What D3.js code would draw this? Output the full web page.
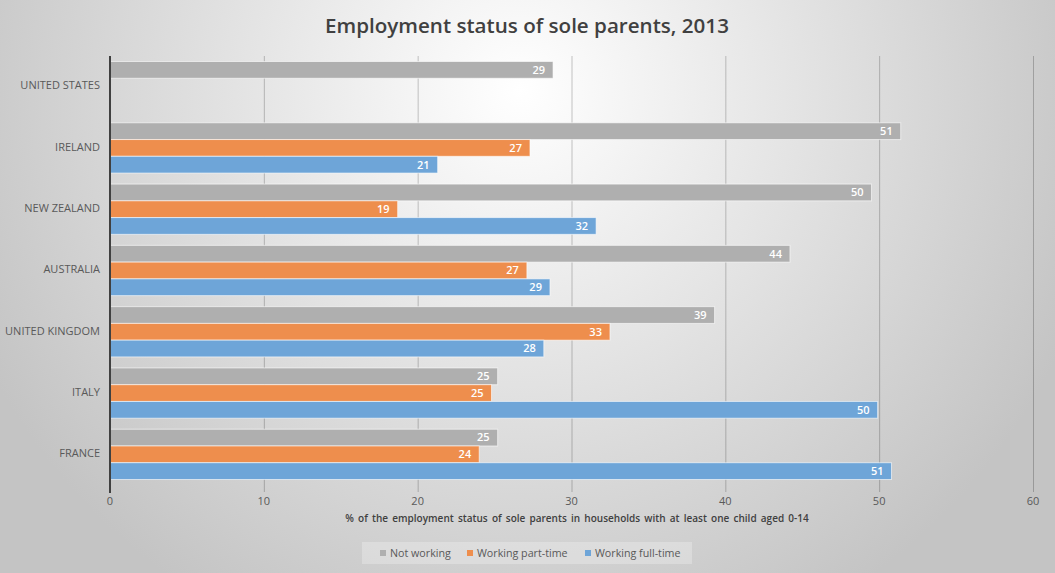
<!DOCTYPE html>
<html>
<head>
<meta charset="utf-8">
<script src="https://cdn.jsdelivr.net/npm/d3@7"></script>
<style>
  body { margin: 0; }
  svg { display: block; font-family: "Open Sans", "Noto Sans", sans-serif; }
</style>
</head>
<body>
<div id="chartContainer"></div>
<script>
var width = 1055,
  height = 573;

// chart values
var countries = ["UNITED STATES", "IRELAND", "NEW ZEALAND", "AUSTRALIA", "UNITED KINGDOM", "ITALY", "FRANCE"];
var seriesNames = ["Not working", "Working part-time", "Working full-time"];
var notWorking = [28.8, 51.4, 49.5, 44.2, 39.3, 25.2, 25.2];
var partTime = [null, 27.3, 18.7, 27.1, 32.5, 24.8, 24.0];
var fullTime = [null, 21.3, 31.6, 28.6, 28.2, 49.9, 50.8];
var xTicks = [0, 10, 20, 30, 40, 50, 60];
var colors = ["#afafaf", "#ee8e4d", "#6ea5d8"];

var series = [notWorking, partTime, fullTime];

var margin = { top: 56, right: 22, bottom: 88, left: 110 };

var svg = d3.select("#chartContainer")
  .append("svg")
  .attr("width", width)
  .attr("height", height);

// background gradient
var defs = svg.append("defs");
var grad = defs.append("radialGradient")
  .attr("id", "bg")
  .attr("gradientUnits", "userSpaceOnUse")
  .attr("cx", 520).attr("cy", 90).attr("r", 600);
grad.append("stop").attr("offset", "0%").attr("stop-color", "#ffffff");
grad.append("stop").attr("offset", "100%").attr("stop-color", "#c4c4c4");

svg.append("rect")
  .attr("width", width)
  .attr("height", height)
  .attr("fill", "url(#bg)");

var x = d3.scaleLinear()
  .domain([0, 60])
  .range([margin.left, width - margin.right]);

var y = d3.scaleBand()
  .domain(countries)
  .range([margin.top, height - margin.bottom])
  .paddingInner(0.18)
  .paddingOuter(0.09);

var y2 = d3.scaleBand()
  .domain(d3.range(3))
  .range([0, y.bandwidth()]);

// gridlines with ticks below
svg.append("g")
  .selectAll("line")
  .data(xTicks.slice(1))
  .enter()
  .append("line")
  .attr("x1", function (d) { return x(d) + 0.5; })
  .attr("x2", function (d) { return x(d) + 0.5; })
  .attr("y1", margin.top)
  .attr("y2", height - margin.bottom + 7)
  .attr("stroke", "rgba(0,0,0,0.22)")
  .attr("stroke-width", 1);

// bars
var rows = [];
countries.forEach(function (c, i) {
  series.forEach(function (s, j) {
    if (s[i] != null) rows.push({ country: c, s: j, v: s[i] });
  });
});

var bars = svg.append("g").selectAll("g")
  .data(rows)
  .enter()
  .append("g");

bars.append("rect")
  .attr("x", x(0))
  .attr("y", function (d) { return y(d.country) + y2(d.s); })
  .attr("width", function (d) { return x(d.v) - x(0); })
  .attr("height", y2.bandwidth())
  .attr("fill", function (d) { return colors[d.s]; })
  .attr("stroke", "rgba(255,255,255,0.6)")
  .attr("stroke-width", 1);

bars.append("text")
  .attr("x", function (d) { return x(d.v) - 8; })
  .attr("y", function (d) { return y(d.country) + y2(d.s) + y2.bandwidth() / 2; })
  .attr("dy", "0.35em")
  .attr("text-anchor", "end")
  .style("font-size", "11px")
  .style("font-weight", "600")
  .style("fill", "#ffffff")
  .text(function (d) { return Math.round(d.v); });

// vertical axis line
svg.append("line")
  .attr("x1", x(0))
  .attr("x2", x(0))
  .attr("y1", margin.top)
  .attr("y2", height - margin.bottom + 8)
  .attr("stroke", "#404040")
  .attr("stroke-width", 2);

// category labels
svg.append("g")
  .selectAll("text")
  .data(countries)
  .enter()
  .append("text")
  .attr("x", x(0) - 10)
  .attr("y", function (d) { return y(d) + y.bandwidth() / 2 - 1; })
  .attr("dy", "0.35em")
  .attr("text-anchor", "end")
  .style("font-size", "11px")
  .style("fill", "#595959")
  .text(function (d) { return d; });

// x tick labels
svg.append("g")
  .selectAll("text")
  .data(xTicks)
  .enter()
  .append("text")
  .attr("x", function (d) { return x(d); })
  .attr("y", height - margin.bottom + 16)
  .attr("dy", "0.35em")
  .attr("text-anchor", "middle")
  .style("font-size", "11px")
  .style("fill", "#595959")
  .text(function (d) { return d; });

// axis title
svg.append("text")
  .attr("x", 577)
  .attr("y", 518)
  .attr("dy", "0.35em")
  .attr("text-anchor", "middle")
  .style("font-size", "10px")
  .style("font-weight", "600")
  .style("word-spacing", "1.6px")
  .style("fill", "#404040")
  .text("% of the employment status of sole parents in households with at least one child aged 0-14");

// chart title
svg.append("text")
  .attr("x", 527)
  .attr("y", 26)
  .attr("dy", "0.35em")
  .attr("text-anchor", "middle")
  .style("font-size", "20.6px")
  .style("font-weight", "600")
  .style("fill", "#404040")
  .text("Employment status of sole parents, 2013");

// legend
var legend = svg.append("g");
legend.append("rect")
  .attr("x", 362)
  .attr("y", 542)
  .attr("width", 330)
  .attr("height", 22)
  .attr("fill", "rgba(255,255,255,0.25)");

var legendX = [380, 467, 585];
var items = legend.selectAll("g")
  .data(seriesNames)
  .enter()
  .append("g")
  .attr("transform", function (d, i) { return "translate(" + legendX[i] + ",553)"; });

items.append("rect")
  .attr("x", 0)
  .attr("y", -3)
  .attr("width", 6)
  .attr("height", 6)
  .attr("fill", function (d, i) { return colors[i]; });

items.append("text")
  .attr("x", 10)
  .attr("y", 0)
  .attr("dy", "0.35em")
  .style("font-size", "10.7px")
  .style("fill", "#595959")
  .text(function (d) { return d; });
</script>
</body>
</html>
